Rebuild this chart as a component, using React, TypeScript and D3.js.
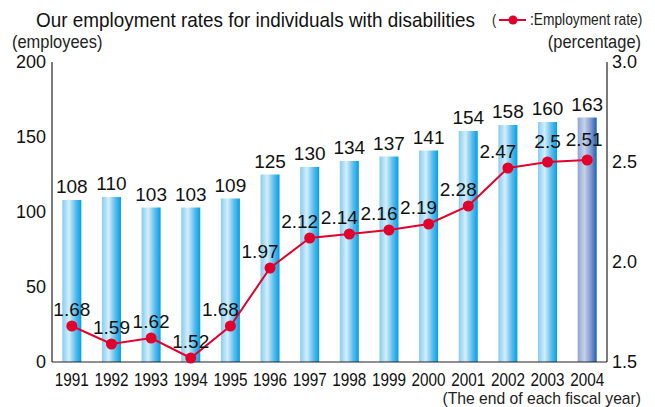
import React from "react";
import * as d3 from "d3";

const years = ["1991", "1992", "1993", "1994", "1995", "1996", "1997", "1998", "1999", "2000", "2001", "2002", "2003", "2004"];
const employees = [108, 110, 103, 103, 109, 125, 130, 134, 137, 141, 154, 158, 160, 163];
const rates = [1.68, 1.59, 1.62, 1.52, 1.68, 1.97, 2.12, 2.14, 2.16, 2.19, 2.28, 2.47, 2.5, 2.51];
const leftTicks = [0, 50, 100, 150, 200];
const rightTicks = [1.5, 2.0, 2.5, 3.0];

const W = 655;
const H = 407;
const margin = { top: 62, right: 48, bottom: 45, left: 52 };
const FONT = "'Liberation Sans', Arial, sans-serif";
const RED = "#e2002c";

export default function App() {
  const x = d3.scaleBand()
    .domain(years)
    .range([margin.left, W - margin.right])
    .paddingInner(0.52)
    .paddingOuter(0.26);
  const y = d3.scaleLinear().domain([0, 200]).range([H - margin.bottom, margin.top]);
  const y2 = d3.scaleLinear().domain([1.5, 3.0]).range([H - margin.bottom, margin.top]);

  const cx = (d) => x(d) + x.bandwidth() / 2;
  const line = d3.line()
    .x((d, i) => cx(years[i]))
    .y((d) => y2(d));

  const x0 = margin.left;
  const x1 = W - margin.right;
  const yb = H - margin.bottom;

  // condensed text helper
  const ct = (tx, ty, s, str, props = {}) => (
    <text transform={`translate(${tx},${ty}) scale(${s},1)`} {...props}>{str}</text>
  );

  return (
    <svg width={W} height={H} style={{ position: "absolute", left: 0, top: 0 }} fontFamily={FONT}>
      <defs>
        <linearGradient id="barGrad" x1="0" x2="1" y1="0" y2="0">
          <stop offset="0" stopColor="#86ccf2" />
          <stop offset="0.35" stopColor="#d4eefb" />
          <stop offset="0.7" stopColor="#5cbcec" />
          <stop offset="1" stopColor="#00a0e6" />
        </linearGradient>
        <linearGradient id="lastGrad" x1="0" x2="1" y1="0" y2="0">
          <stop offset="0" stopColor="#8aa4d6" />
          <stop offset="0.35" stopColor="#c9d2ea" />
          <stop offset="0.7" stopColor="#7d98cf" />
          <stop offset="1" stopColor="#1d5fae" />
        </linearGradient>
      </defs>

      {/* title + legend */}
      {ct(36, 27, 0.9, "Our employment rates for individuals with disabilities", { fontSize: 21, fill: "#111" })}
      {ct(492, 25, 0.85, "(", { fontSize: 15, fill: "#222" })}
      <line x1={499} x2={526} y1={20} y2={20} stroke={RED} strokeWidth={2} />
      <circle cx={513} cy={20} r={4.5} fill={RED} />
      {ct(530, 25, 0.86, ":Employment rate)", { fontSize: 16, fill: "#222" })}

      {ct(12, 48, 0.94, "(employees)", { fontSize: 17.5, fill: "#222" })}
      {ct(641, 48, 0.94, "(percentage)", { fontSize: 17.5, fill: "#222", textAnchor: "end" })}

      {/* bars */}
      {employees.map((v, i) => (
        <rect key={years[i]} x={x(years[i])} y={y(v)} width={x.bandwidth()} height={y(0) - y(v)}
          fill={i === years.length - 1 ? "url(#lastGrad)" : "url(#barGrad)"} />
      ))}
      {employees.map((v, i) => (
        <text key={"v" + years[i]} x={cx(years[i])} y={y(v) - 7} textAnchor="middle" fontSize={19} fill="#111">{v}</text>
      ))}

      {/* axes */}
      <line x1={x0} x2={x0} y1={margin.top} y2={yb} stroke="#222" strokeWidth={1.2} />
      <line x1={x1} x2={x1} y1={margin.top} y2={yb} stroke="#222" strokeWidth={1.2} />
      <line x1={x0} x2={x1} y1={yb} y2={yb} stroke="#222" strokeWidth={1.2} />
      {leftTicks.map((t) => (
        <text key={"l" + t} x={x0 - 6} y={y(t) + 6} textAnchor="end" fontSize={18} fill="#111">{t}</text>
      ))}
      {rightTicks.map((t) => (
        <text key={"r" + t} x={x1 + 5} y={y2(t) + 6} fontSize={18} fill="#111">{d3.format(".1f")(t)}</text>
      ))}
      {years.map((yr) => ct(cx(yr), yb + 24, 0.85, yr, { key: "y" + yr, textAnchor: "middle", fontSize: 18, fill: "#111" }))}
      {ct(641, 404, 0.98, "(The end of each fiscal year)", { fontSize: 16, fill: "#222", textAnchor: "end" })}

      {/* rate line */}
      <path d={line(rates)} fill="none" stroke={RED} strokeWidth={2} />
      {rates.map((r, i) => (
        <circle key={"c" + i} cx={cx(years[i])} cy={y2(r)} r={5.5} fill={RED} />
      ))}
      {rates.map((r, i) => (
        <text key={"t" + i} x={cx(years[i]) + (i >= 4 && i <= 11 ? -10 : i === 13 ? -3 : 0)}
          y={y2(r) - (i >= 12 ? 14 : 10)} textAnchor="middle" fontSize={19} fill="#111">{r}</text>
      ))}
    </svg>
  );
}
